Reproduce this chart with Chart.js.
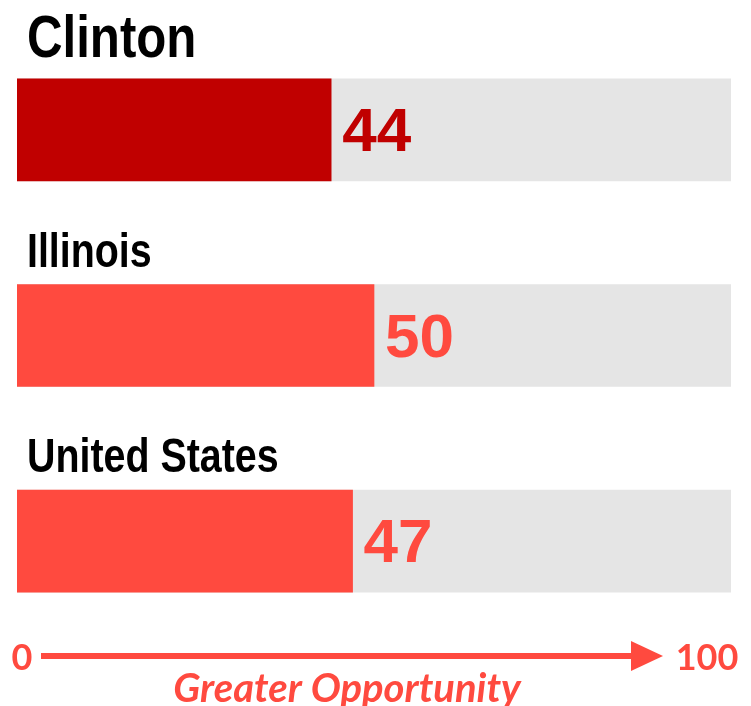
<!DOCTYPE html>
<html>
<head>
<meta charset="utf-8">
<script src="https://cdn.jsdelivr.net/npm/chart.js@4"></script>
<style>
    html, body { margin: 0; padding: 0; background: #fff; }
    #wrap { width: 751px; height: 706px; position: relative; }
</style>
</head>
<body>
<div id="wrap"><canvas id="bar-chart"></canvas></div>
<script>
const categories = ['Clinton', 'Illinois', 'United States'];
const scores = [44, 50, 47];
const scaleMin = 0;
const scaleMax = 100;
const axisLabels = ['0', '100'];
const axisTitle = 'Greater Opportunity';

const barColors = ['#C00000', '#FF4A3F', '#FF4A3F'];
const trackColor = '#E5E5E5';
const accent = '#FF4A3F';

// category names above each bar and the score right after the filled part
const barLabels = {
    id: 'barLabels',
    afterDatasetsDraw(chart) {
        const ctx = chart.ctx;
        const meta = chart.getDatasetMeta(0);
        meta.data.forEach((bar, i) => {
            const top = bar.y - bar.height / 2;
            const size = i === 0 ? 60 : 48;
            ctx.save();
            ctx.fillStyle = '#000';
            ctx.textBaseline = 'alphabetic';
            ctx.font = `bold ${size}px "Liberation Sans", Arial, sans-serif`;
            ctx.translate(chart.chartArea.left + 10, top - (i === 0 ? 22 : 18));
            ctx.scale(0.82, 1);
            ctx.fillText(categories[i], 0, 0);
            ctx.restore();

            ctx.save();
            ctx.fillStyle = barColors[i];
            ctx.textBaseline = 'middle';
            ctx.font = 'bold 62px "Liberation Sans", Arial, sans-serif';
            ctx.fillText(String(scores[i]), bar.x + 11, bar.y + 4);
            ctx.restore();
        });
    }
};

// arrow along the bottom with its end labels and caption
const opportunityArrow = {
    id: 'opportunityArrow',
    afterDraw(chart) {
        const ctx = chart.ctx;
        const y = 656;
        ctx.save();
        ctx.strokeStyle = accent;
        ctx.fillStyle = accent;
        ctx.lineWidth = 6;
        ctx.beginPath();
        ctx.moveTo(41, y);
        ctx.lineTo(634, y);
        ctx.stroke();
        ctx.beginPath();
        ctx.moveTo(631, y - 15);
        ctx.lineTo(663, y);
        ctx.lineTo(631, y + 15);
        ctx.closePath();
        ctx.fill();

        ctx.font = 'bold 36px Lato, sans-serif';
        ctx.textBaseline = 'middle';
        ctx.textAlign = 'center';
        ctx.fillText(axisLabels[0], 22, y + 2);
        ctx.fillText(axisLabels[1], 707, y + 2);

        ctx.font = 'italic bold 40px Lato, sans-serif';
        ctx.textBaseline = 'alphabetic';
        ctx.fillText(axisTitle, 347, 702);
        ctx.restore();
    }
};

new Chart(document.getElementById('bar-chart'), {
    type: 'bar',
    data: {
        labels: categories,
        datasets: [{
            data: scores,
            backgroundColor: barColors,
            grouped: false,
            order: 0,
            barThickness: 102
        }, {
            data: categories.map(() => scaleMax),
            backgroundColor: trackColor,
            grouped: false,
            order: 1,
            barThickness: 102
        }]
    },
    options: {
        indexAxis: 'y',
        responsive: true,
        maintainAspectRatio: false,
        animation: false,
        layout: {
            padding: {left: 17, right: 20, top: 27, bottom: 62}
        },
        scales: {
            x: {min: scaleMin, max: scaleMax, display: false},
            y: {display: false}
        },
        plugins: {
            legend: {display: false},
            tooltip: {enabled: false}
        }
    },
    plugins: [barLabels, opportunityArrow]
});
</script>
</body>
</html>
